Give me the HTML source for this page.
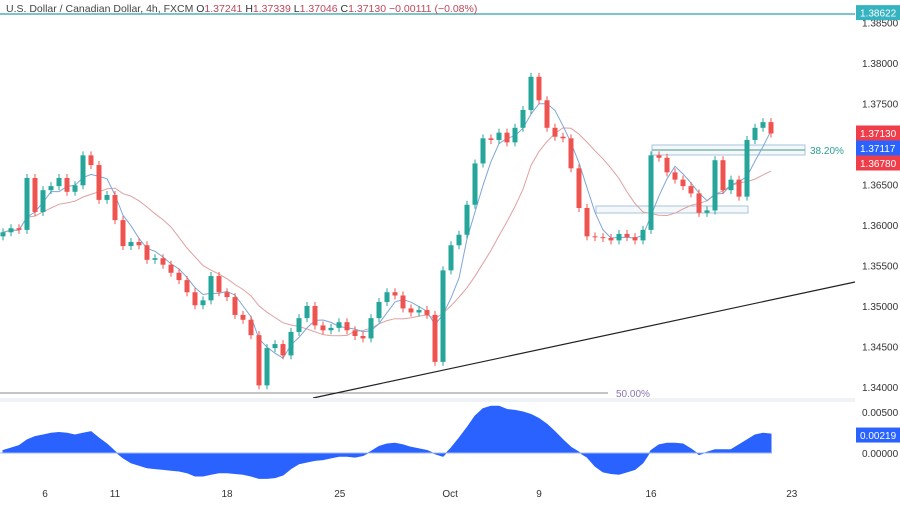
<!DOCTYPE html>
<html><head><meta charset="utf-8">
<style>
body{margin:0;background:#fff;font-family:"Liberation Sans",sans-serif;}
svg text{font-family:"Liberation Sans",sans-serif;}
</style></head>
<body>
<svg id="chart" width="900" height="500" viewBox="0 0 900 500" xmlns="http://www.w3.org/2000/svg">
  <rect x="0" y="0" width="900" height="500" fill="#fff"/>
  <g id="grid"></g>
  <line x1="0" y1="14" x2="855" y2="14" stroke="#4fb0b8" stroke-width="1.5"/>
  <line x1="0" y1="393" x2="608" y2="393" stroke="#888" stroke-width="1"/>
  <text x="616" y="397" font-size="10" fill="#8a75b0">50.00%</text>
  <line x1="313" y1="398" x2="855" y2="282" stroke="#222" stroke-width="1.2"/>
  <rect x="596" y="206" width="152" height="7" fill="rgba(120,160,200,0.08)" stroke="#a9c4d8"/>
  <rect x="652" y="145" width="153" height="10" fill="rgba(120,160,200,0.08)" stroke="#a9c4d8"/>
  <line x1="652" y1="150" x2="805" y2="150" stroke="#7fb8b0" stroke-width="1.5"/>
  <text x="810" y="154" font-size="10" fill="#2a9d8f">38.20%</text>
  <g id="ma-slow"></g><g id="ma-fast"></g>
  <g id="candles"></g>
  <rect x="0" y="398" width="855" height="4" fill="#f0f3f6"/>
  <g id="osc"></g>
  <g id="axis"></g>
  <text x="6" y="12" font-size="10.5" fill="#444">U.S. Dollar / Canadian Dollar, 4h, FXCM <tspan fill="#333">O</tspan><tspan fill="#c0475a">1.37241</tspan> <tspan fill="#333">H</tspan><tspan fill="#c0475a">1.37339</tspan> <tspan fill="#333">L</tspan><tspan fill="#c0475a">1.37046</tspan> <tspan fill="#333">C</tspan><tspan fill="#c0475a">1.37130 −0.00111 (−0.08%)</tspan></text>
</svg>
<script>
const closes=[1.3591,1.3596,1.3594,1.3658,1.3616,1.3643,1.3648,1.3658,1.3641,1.3649,
1.3686,1.3674,1.3631,1.3637,1.3606,1.3574,1.3579,1.3575,1.3557,1.3559,
1.3551,1.3541,1.3532,1.3517,1.3501,1.3507,1.3537,1.3517,1.3511,1.3489,
1.3483,1.3464,1.3402,1.3448,1.3453,1.3439,1.3468,1.3485,1.3500,1.3476,
1.3470,1.3473,1.3480,1.3470,1.3463,1.3460,1.3485,1.3505,1.3517,1.3513,
1.3497,1.3492,1.3495,1.3489,1.3431,1.3544,1.3575,1.3588,1.3625,1.3676,
1.3707,1.3705,1.3714,1.3702,1.3720,1.3742,1.3783,1.3754,1.3720,1.3709,
1.3707,1.3670,1.3621,1.3586,1.3585,1.3584,1.3581,1.3589,1.3585,1.3581,
1.3594,1.3686,1.3683,1.3665,1.3656,1.3648,1.3639,1.3615,1.3618,1.3680,
1.3643,1.3656,1.3635,1.3705,1.3720,1.3727,1.3713];
const firstOpen=1.3586;
const oscValues=[0.0003,0.0006,0.0009,0.0016,0.0020,0.0022,0.0024,0.0025,0.0024,0.0022,
0.0024,0.0026,0.0018,0.0011,0.0002,-0.0006,-0.0012,-0.0015,-0.0018,-0.0019,
-0.0020,-0.0021,-0.0022,-0.0024,-0.0028,-0.0028,-0.0026,-0.0024,-0.0024,-0.0025,
-0.0026,-0.0028,-0.0031,-0.0031,-0.0030,-0.0027,-0.0019,-0.0013,-0.0011,-0.0009,
-0.0008,-0.0006,-0.0004,-0.0004,-0.0005,-0.0003,0.0002,0.0008,0.0011,0.0012,
0.0010,0.0007,0.0005,0.0003,-0.0001,-0.0004,0.0006,0.0018,0.0031,0.0045,
0.0054,0.0057,0.0057,0.0053,0.0052,0.0050,0.0047,0.0042,0.0035,0.0026,
0.0016,0.0007,0.0001,-0.0005,-0.0016,-0.0023,-0.0025,-0.0026,-0.0023,-0.0020,
-0.0012,0.0003,0.0010,0.0012,0.0012,0.0011,0.0005,-0.0002,0.0001,0.0004,
0.0004,0.0004,0.0010,0.0016,0.0022,0.0024,0.0023];
const priceTicks=[1.385,1.380,1.375,1.370,1.365,1.360,1.355,1.350,1.345,1.340];
const oscTicks=[0.005,0.0];
const dateLabels=["6","11","18","25","Oct","9","16","23"];
const dateIdx=[5.25,14,28,42.1,55.9,67,81,98.6];
const lastPrice=1.37130, fastLast=1.37117, slowLast=1.36780, lastOsc=0.00219, resistance=1.38622;

const NS="http://www.w3.org/2000/svg";
const yP=p=>63+(1.38-p)*8100;
const yO=v=>453-v*8200;
const xI=i=>3+i*8;
function mk(tag,attrs,parent){const e=document.createElementNS(NS,tag);for(const k in attrs)e.setAttribute(k,attrs[k]);parent.appendChild(e);return e;}

const cg=document.getElementById('candles');
for(let i=0;i<closes.length;i++){
  const o=i===0?firstOpen:closes[i-1], c=closes[i];
  const up=c>=o, col=up?'#26a69a':'#ef5350';
  const yt=yP(Math.max(o,c)), yb=yP(Math.min(o,c));
  const w=mk('line',{x1:xI(i),x2:xI(i),y1:yt-4,y2:yb+4,stroke:col,'stroke-width':1},cg);
  
  
  const b=mk('rect',{x:xI(i)-2.5,y:yt,width:5,height:Math.max(1,yb-yt),fill:col},cg);
  
  
}
function ma(n){return closes.map((_,i)=>{const s=Math.max(0,i-n+1);let t=0;for(let j=s;j<=i;j++)t+=closes[j];return t/(i-s+1);});}
function drawLine(vals,col,id,name){
  const d=vals.map((v,i)=>(i?'L':'M')+xI(i)+','+yP(v).toFixed(1)).join('');
  const p=mk('path',{d:d,fill:'none',stroke:col,'stroke-width':1},document.getElementById(id));
  
  
}
drawLine(ma(12),'#e0a0a0','ma-slow','slow-moving-average');
drawLine(ma(4),'#7fa6d6','ma-fast','fast-moving-average');

const og=document.getElementById('osc');
let d='M'+xI(0)+','+yO(0);
oscValues.forEach((v,i)=>{d+='L'+xI(i)+','+yO(v).toFixed(1);});
d+='L'+xI(oscValues.length-1)+','+yO(0)+'Z';
const oa=mk('path',{d:d,fill:'#2962ff',stroke:'#2962ff','stroke-width':1},og);


const zl=mk('line',{x1:0,x2:xI(oscValues.length-1),y1:yO(0),y2:yO(0),stroke:'#9fb8ff','stroke-width':1},og);



const ax=document.getElementById('axis');
priceTicks.forEach(p=>{
  const t=mk('text',{x:862,y:yP(p)+4,'font-size':10,fill:'#333'},ax);t.textContent=p.toFixed(5);
  
  
});
oscTicks.forEach(v=>{
  const t=mk('text',{x:862,y:yO(v)+4,'font-size':10,fill:'#333'},ax);t.textContent=v.toFixed(5);
  
  
});
dateLabels.forEach((s,k)=>{
  const t=mk('text',{x:xI(dateIdx[k]),y:497,'font-size':10,fill:'#333','text-anchor':'middle'},ax);t.textContent=s;
  
  
});
function tag(v,y,bg,name){
  const r=mk('rect',{x:856,y:y-7.5,width:44,height:15,fill:bg},ax);
  
  
  const t=mk('text',{x:860,y:y+4,'font-size':10,fill:'#fff'},ax);t.textContent=v.toFixed(5);
  
  
}
tag(resistance,yP(resistance),'#36b3c0','resistance-price-tag');
tag(lastPrice,133,'#ef3e4a','last-price-tag');
tag(fastLast,148,'#2962ff','fast-ma-tag');
tag(slowLast,163,'#ef3e4a','slow-ma-tag');
tag(lastOsc,yO(lastOsc),'#2962ff','oscillator-value-tag');
</script>
</body></html>
